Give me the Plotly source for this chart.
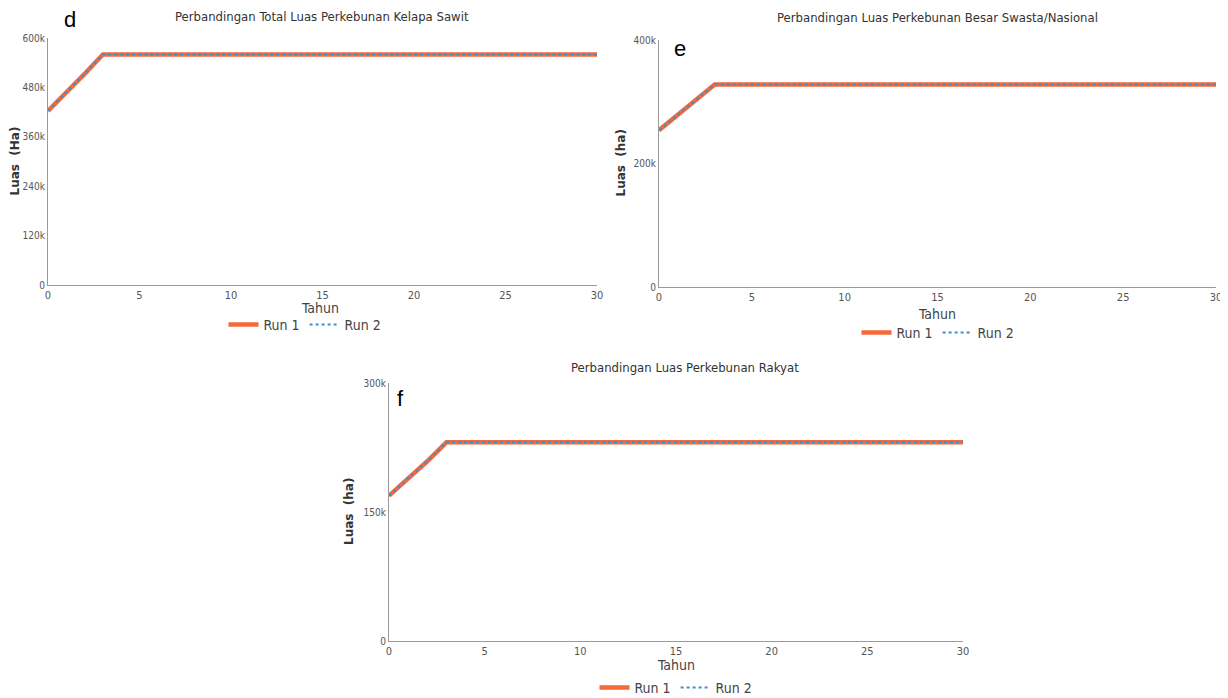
import plotly.graph_objects as go

W, H = 1228, 698
OFF = 8  # default page body margin

years = list(range(0, 31))

# Panel d: total oil palm plantation area (ha)
total_run1 = [423000, 467000, 513000, 560000] + [560000] * 27
total_run2 = [423000, 467000, 513000, 560000] + [560000] * 27
# Panel e: large private/national plantations (ha)
swasta_run1 = [254000, 278000, 303000, 328000] + [328000] * 27
swasta_run2 = [254000, 278000, 303000, 328000] + [328000] * 27
# Panel f: smallholder plantations (ha)
rakyat_run1 = [169000, 189000, 209000, 231000] + [231000] * 27
rakyat_run2 = [169000, 189000, 209000, 231000] + [231000] * 27

x_ticks = [0, 5, 10, 15, 20, 25, 30]
x_ticktext = ["0", "5", "10", "15", "20", "25", "30"]
d_yticks = [0, 120000, 240000, 360000, 480000, 600000]
d_yticktext = ["0", "120k", "240k", "360k", "480k", "600k"]
e_yticks = [0, 200000, 400000]
e_yticktext = ["0", "200k", "400k"]
f_yticks = [0, 150000, 300000]
f_yticktext = ["0", "150k", "300k"]

titles = ["Perbandingan Total Luas Perkebunan Kelapa Sawit",
          "Perbandingan Luas Perkebunan Besar Swasta/Nasional",
          "Perbandingan Luas Perkebunan Rakyat"]
ytitles = ["Luas  (Ha)", "Luas  (ha)", "Luas  (ha)"]
letters = ["d", "e", "f"]
series_names = ["Run 1", "Run 2"]

ORANGE = "#F4693C"
BLUE = "#3F8FCB"
NARROW = "DejaVu Sans Condensed, Liberation Sans Narrow, Roboto, sans-serif"

def px(x):
    return (x - OFF) / W

def py(y):
    return 1 - (y - OFF) / H

# panel pixel boxes (screen pixels): (left, right, top, bottom)
boxes = [(48, 597, 38, 285), (659, 1216, 40, 287), (389, 963, 383, 641)]
data = [(total_run1, total_run2, d_yticks, d_yticktext),
        (swasta_run1, swasta_run2, e_yticks, e_yticktext),
        (rakyat_run1, rakyat_run2, f_yticks, f_yticktext)]

fig = go.Figure()
layout = dict(width=W, height=H, margin=dict(l=0, r=0, t=0, b=0, autoexpand=False),
              paper_bgcolor="white", plot_bgcolor="white", annotations=[])

title_pos = [(322, 17), (937, 18), (685, 367)]
tahun_pos = [(320, 308), (937, 314), (676, 665)]
legend_pos = [(305, 325), (938, 333), (676, 688)]
letter_pos = [(70, 20), (680, 48), (401, 398)]
ytitle_x = [15, 621, 349]

for i, ((l, r, t, b), (r1, r2, yt, ytt)) in enumerate(zip(boxes, data)):
    n = "" if i == 0 else str(i + 1)
    xa, ya = "x" + n, "y" + n
    lg = "legend" if i == 0 else "legend" + str(i + 1)
    fig.add_trace(go.Scatter(x=years, y=r1, mode="lines", name=series_names[0],
                             line=dict(color=ORANGE, width=4.5),
                             xaxis=xa, yaxis=ya, legend=lg))
    fig.add_trace(go.Scatter(x=years, y=r2, mode="lines", name=series_names[1],
                             line=dict(color=BLUE, width=2, dash="dot"),
                             xaxis=xa, yaxis=ya, legend=lg))
    layout["xaxis" + n] = dict(domain=[px(l), px(r)], range=[0, 30], anchor=ya,
                               tickvals=x_ticks, ticktext=x_ticktext, automargin=False,
                               showgrid=False, zeroline=False, showline=True,
                               linecolor="#9a9a9a", linewidth=1, ticks="", ticklabelstandoff=0,
                               tickfont=dict(family=NARROW, size=11, color="#555"))
    layout["yaxis" + n] = dict(domain=[py(b), py(t)], range=[0, yt[-1]], anchor=xa,
                               tickvals=yt, ticktext=ytt, automargin=False,
                               showgrid=False, zeroline=False, showline=True,
                               linecolor="#9a9a9a", linewidth=1, ticks="",
                               tickfont=dict(family=NARROW, size=10, color="#555"))
    lx, lyy = legend_pos[i]
    layout[lg] = dict(orientation="h", x=px(lx), y=py(lyy), xanchor="center", yanchor="middle",
                      font=dict(family=NARROW, size=14, color="#444"),
                      itemwidth=30, tracegroupgap=0, bgcolor="rgba(0,0,0,0)",
                      traceorder="normal")
    tx, ty = title_pos[i]
    layout["annotations"].append(dict(text=titles[i], x=px(tx), y=py(ty), xref="paper", yref="paper",
                                      showarrow=False, xanchor="center", yanchor="middle",
                                      font=dict(family=NARROW, size=13, color="#333")))
    hx, hy = tahun_pos[i]
    layout["annotations"].append(dict(text="Tahun", x=px(hx), y=py(hy), xref="paper", yref="paper",
                                      showarrow=False, xanchor="center", yanchor="middle",
                                      font=dict(family=NARROW, size=14, color="#444")))
    layout["annotations"].append(dict(text="<b>" + ytitles[i] + "</b>", x=px(ytitle_x[i]),
                                      y=py((t + b) / 2), xref="paper", yref="paper",
                                      showarrow=False, textangle=-90, xanchor="center", yanchor="middle",
                                      font=dict(family="DejaVu Sans, sans-serif", size=12, color="#333")))
    gx, gy = letter_pos[i]
    layout["annotations"].append(dict(text=letters[i], x=px(gx), y=py(gy), xref="paper", yref="paper",
                                      showarrow=False, xanchor="center", yanchor="middle",
                                      font=dict(family="Liberation Sans, Arial, sans-serif", size=22, color="black")))

fig.update_layout(**layout)
fig.write_html("out.html")
